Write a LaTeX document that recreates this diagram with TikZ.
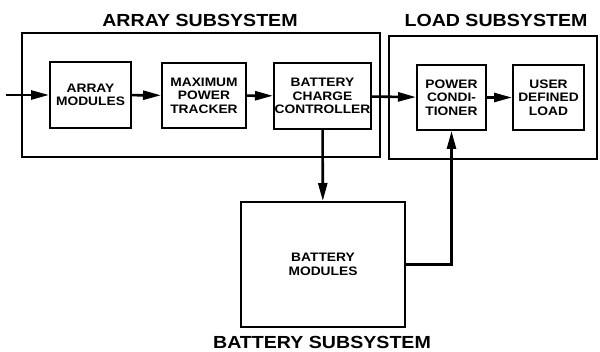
\documentclass[tikz,border=0pt]{standalone}
\usepackage{fontspec}
\setmainfont[FakeStretch=1.12]{Liberation Sans}
\usepackage{tikz}
\usetikzlibrary{arrows.meta}
\newcommand{\blk}[6]{%
  \node[blk,minimum width=#4,minimum height=#5] (#1) at (#2,#3) {#6};%
}
\tikzset{
  blk/.style={draw,line width=2pt,align=center,inner sep=0pt,
    font=\bfseries\fontsize{12.3}{13.5}\selectfont},
  sysbox/.style={draw,line width=2.2pt},
  systitle/.style={font=\bfseries\fontsize{17.5}{19}\selectfont},
  flow/.style={line width=2.6pt,-{Triangle[length=18pt,width=9pt]}}
}
\begin{document}
\begin{tikzpicture}[x=1pt,y=-1pt]
  \useasboundingbox (0,0) rectangle (600,352);
  % subsystem frames
  \draw[sysbox] (22,33) rectangle (380,157);
  \draw[sysbox] (389,36) rectangle (597,159);
  \node[systitle] (arrtitle) at (200,20) {ARRAY SUBSYSTEM};
  \node[systitle] (loadtitle) at (496,20) {LOAD SUBSYSTEM};
  \node[systitle] (battitle) at (322,342) {BATTERY SUBSYSTEM};
  % blocks
  \blk{arr}{90.5}{95}{81pt}{66pt}{ARRAY\\MODULES}
  \blk{mpt}{204}{95.5}{84pt}{65pt}{MAXIMUM\\POWER\\TRACKER}
  \blk{bcc}{322.5}{96}{97pt}{66pt}{BATTERY\\CHARGE\\CONTROLLER}
  \blk{pc}{451.5}{97.5}{69pt}{65pt}{POWER\\CONDI-\\TIONER}
  \blk{udl}{548.5}{97.5}{71pt}{65pt}{USER\\DEFINED\\LOAD}
  \blk{bat}{323}{264.5}{164pt}{125pt}{BATTERY\\MODULES}
  \coordinate (src) at (6,95);
  % power flow
  \draw[flow] (src) -- (arr.west);
  \draw[flow] (arr) -- (mpt);
  \draw[flow] (mpt) -- (bcc);
  \draw[flow] (bcc) -- (pc);
  \draw[flow] (pc) -- (udl);
  \draw[flow] (bcc) -- (bat);
  \draw[flow] (bat.east) -| (pc.south);
\end{tikzpicture}
\end{document}
